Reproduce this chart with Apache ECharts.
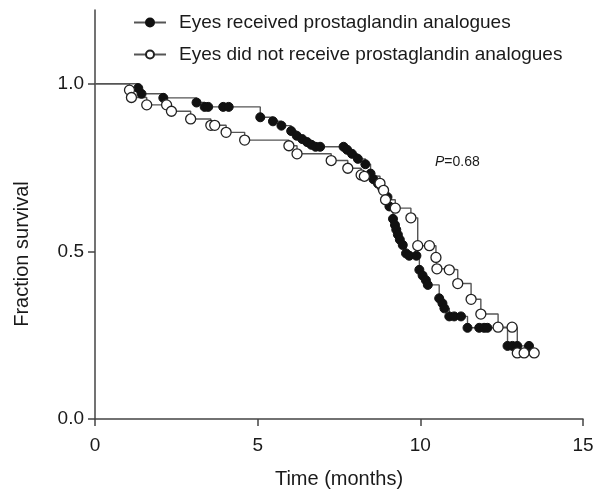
<!DOCTYPE html>
<html><head><meta charset="utf-8">
<script src="https://cdn.jsdelivr.net/npm/echarts@6/dist/echarts.min.js"></script>
<style>html,body{margin:0;padding:0;background:#fff;overflow:hidden}#c{width:605px;height:494px}</style>
</head><body><div id="c"></div>
<script>
// Eyes received prostaglandin analogues (filled): time (months), fraction survival
const recTime = [0, 1.33, 1.43, 2.10, 3.12, 3.37, 3.48, 3.94, 4.11, 5.08, 5.47, 5.73, 6.03, 6.20, 6.37, 6.52, 6.65, 6.78, 6.92, 7.64, 7.75, 7.90, 8.08, 8.31, 8.47, 8.56, 8.70, 8.83, 8.99, 9.05, 9.16, 9.22, 9.26, 9.31, 9.37, 9.46, 9.56, 9.66, 9.88, 9.97, 10.07, 10.17, 10.23, 10.58, 10.68, 10.74, 10.89, 11.04, 11.25, 11.45, 11.81, 11.96, 12.06, 12.68, 12.83, 12.98, 13.34];
const recSurv = [1.0, 0.987, 0.970, 0.958, 0.944, 0.931, 0.931, 0.931, 0.931, 0.900, 0.888, 0.875, 0.859, 0.845, 0.835, 0.826, 0.818, 0.812, 0.812, 0.812, 0.803, 0.791, 0.776, 0.760, 0.732, 0.715, 0.702, 0.688, 0.662, 0.634, 0.597, 0.579, 0.565, 0.550, 0.535, 0.519, 0.494, 0.487, 0.487, 0.445, 0.428, 0.414, 0.400, 0.360, 0.345, 0.330, 0.306, 0.306, 0.306, 0.272, 0.272, 0.272, 0.272, 0.218, 0.218, 0.218, 0.218];
// Eyes did not receive prostaglandin analogues (open)
const notTime = [0, 1.06, 1.12, 1.59, 2.20, 2.35, 2.94, 3.56, 3.68, 4.03, 4.60, 5.96, 6.21, 7.26, 7.77, 8.18, 8.28, 8.76, 8.87, 8.93, 9.23, 9.71, 9.92, 10.28, 10.48, 10.51, 10.89, 11.15, 11.56, 11.86, 12.39, 12.82, 12.98, 13.19, 13.50];
const notSurv = [1.0, 0.981, 0.959, 0.937, 0.937, 0.918, 0.895, 0.876, 0.876, 0.855, 0.832, 0.815, 0.791, 0.771, 0.748, 0.728, 0.724, 0.703, 0.682, 0.654, 0.629, 0.600, 0.517, 0.517, 0.482, 0.448, 0.445, 0.404, 0.357, 0.313, 0.274, 0.274, 0.197, 0.197, 0.197];
const xTicks = [0, 5, 10, 15];
const yTicks = [0, 0.5, 1.0];
const seriesNames = ['Eyes received prostaglandin analogues', 'Eyes did not receive prostaglandin analogues'];

function build(t, s) {
  return t.map((v, i) => i === 0 ? { value: [v, s[i]], symbol: 'none' } : [v, s[i]]);
}
const font = 'Liberation Sans, Arial, sans-serif';
const chart = echarts.init(document.getElementById('c'), null, { renderer: 'canvas' });
chart.setOption({
  animation: false,
  backgroundColor: '#fff',
  grid: { left: 95, right: 22, top: 10, bottom: 70 },
  legend: {
    orient: 'vertical', left: 128, top: 8, itemGap: 13, itemWidth: 32, itemHeight: 10,
    textStyle: { fontFamily: font, fontSize: 19, color: '#1a1a1a', padding: [0, 0, 0, 8] },
    data: seriesNames
  },
  xAxis: {
    type: 'value', min: 0, max: 15, interval: 5,
    name: 'Time (months)', nameLocation: 'middle', nameGap: 50,
    nameTextStyle: { fontFamily: font, fontSize: 20, color: '#1a1a1a' },
    axisLine: { onZero: false, lineStyle: { color: '#444', width: 1.5 } },
    axisTick: { length: 7, lineStyle: { color: '#444', width: 1.5 }, customValues: xTicks },
    axisLabel: { fontFamily: font, fontSize: 19, color: '#1a1a1a', margin: 17, customValues: xTicks },
    splitLine: { show: false }
  },
  yAxis: {
    type: 'value', min: 0, max: 1.22,
    axisLine: { show: true, onZero: false, lineStyle: { color: '#444', width: 1.5 } },
    axisTick: { show: true, length: 7, lineStyle: { color: '#444', width: 1.5 }, customValues: yTicks },
    axisLabel: { fontFamily: font, fontSize: 19, color: '#1a1a1a', margin: 11, customValues: yTicks,
      formatter: v => v.toFixed(1) },
    splitLine: { show: false }
  },
  series: [
    {
      name: seriesNames[0], type: 'line', step: 'end', data: build(recTime, recSurv),
      symbol: 'circle', symbolSize: 9, showAllSymbol: true,
      lineStyle: { color: '#555', width: 1.4 },
      itemStyle: { color: '#111', borderColor: '#111', borderWidth: 1 }
    },
    {
      name: seriesNames[1], type: 'line', step: 'end', data: build(notTime, notSurv),
      symbol: 'circle', symbolSize: 10, showAllSymbol: true,
      lineStyle: { color: '#555', width: 1.4 },
      itemStyle: { color: '#fff', borderColor: '#222', borderWidth: 1.3 }
    }
  ],
  graphic: [{
    type: 'text', left: 435, top: 155,
    style: {
      text: '{i|P}=0.68', fontFamily: font, fontSize: 14, fill: '#1a1a1a',
      rich: { i: { fontStyle: 'italic', fontFamily: font, fontSize: 14, fill: '#1a1a1a' } }
    }
  }, {
    type: 'text', x: 22, y: 254, rotation: Math.PI / 2,
    style: {
      text: 'Fraction survival', fontFamily: font, fontSize: 20, fill: '#1a1a1a',
      align: 'center', verticalAlign: 'middle'
    }
  }]
});
</script></body></html>
